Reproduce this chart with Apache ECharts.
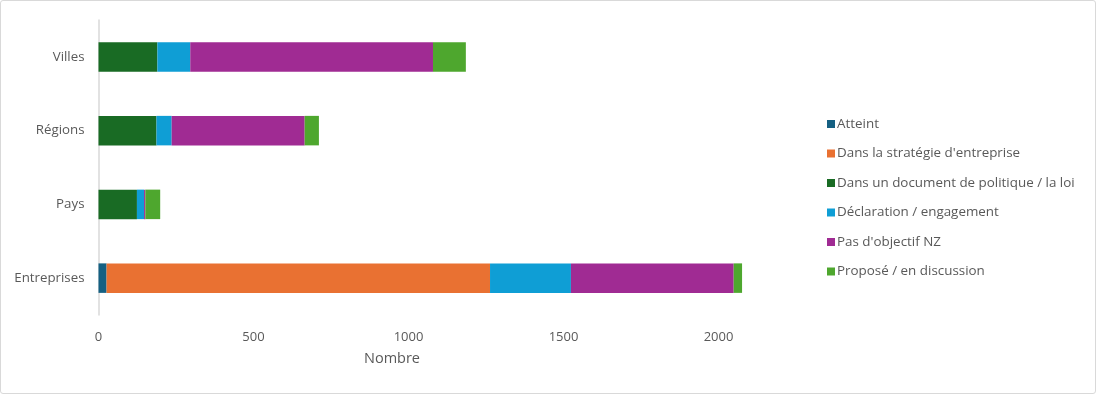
<!DOCTYPE html>
<html>
<head>
<meta charset="utf-8">
<script src="https://cdn.jsdelivr.net/npm/echarts@6/dist/echarts.min.js"></script>
<style>
html,body{margin:0;padding:0;background:#fff;}
#frame{position:absolute;left:0;top:0;width:1094px;height:392px;border:1px solid #d9d9d9;border-radius:3px;}
#c{position:absolute;left:0;top:0;width:1096px;height:394px;}
</style>
</head>
<body>
<div id="frame"></div>
<div id="c"></div>
<script>
const categories = ["Entreprises", "Pays", "Régions", "Villes"];
const seriesNames = ["Atteint", "Dans la stratégie d'entreprise", "Dans un document de politique / la loi", "Déclaration / engagement", "Pas d'objectif NZ", "Proposé / en discussion"];
const atteint = [26, 0, 0, 0];
const strategie = [1237, 0, 0, 0];
const politique = [0, 124, 187, 190];
const declaration = [261, 23, 49, 106];
const pasObjectif = [525, 4, 429, 783];
const propose = [27, 48, 46, 106];
const axisTitle = "Nombre";
const colors = ["#156082", "#E97132", "#196B24", "#0F9ED5", "#A02B93", "#4EA72E"];
const values = [atteint, strategie, politique, declaration, pasObjectif, propose];

const font = "Open Sans";
const chart = echarts.init(document.getElementById('c'));
chart.setOption({
  animation: false,
  textStyle: {fontFamily: font},
  grid: {left: 98.5, top: 20, width: 651, height: 295},
  legend: {
    orient: 'vertical', left: 822, top: 110,
    itemWidth: 8, itemHeight: 8, itemGap: 11.5,
    icon: 'rect',
    textStyle: {color: '#595959', fontSize: 13.4, lineHeight: 18, fontFamily: font, padding: [0,0,0,-3]},
    data: seriesNames
  },
  graphic: [{
    type: 'text', left: 364, top: 351,
    style: {text: axisTitle, fill: '#595959', font: '14.5px "Open Sans"'}
  }],
  xAxis: {
    type: 'value', min: 0, max: 2100, interval: 500,
    axisLine: {show: false}, axisTick: {show: false}, splitLine: {show: false},
    axisLabel: {color: '#595959', fontSize: 13, margin: 16, fontFamily: font,
      formatter: v => (v % 500 === 0 ? String(v) : '')}
  },
  yAxis: {
    type: 'category', data: categories,
    axisLine: {show: true, lineStyle: {color: '#d9d9d9', width: 1.5}},
    axisTick: {show: false},
    axisLabel: {color: '#595959', fontSize: 13.3, margin: 14, fontFamily: font}
  },
  series: seriesNames.map((n, i) => ({
    name: n, type: 'bar', stack: 'total', barWidth: 29.5,
    itemStyle: {color: colors[i]},
    data: values[i]
  }))
});
</script>
</body>
</html>
